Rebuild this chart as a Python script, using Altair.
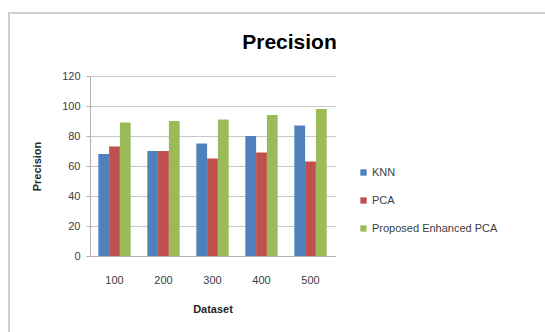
import altair as alt
import pandas as pd

datasets = ["100", "200", "300", "400", "500"]
series = ["KNN", "PCA", "Proposed Enhanced PCA"]
knn = [68, 70, 75, 80, 87]
pca = [73, 70, 65, 69, 63]
enhanced = [89, 90, 91, 94, 98]
colors = ["#4F81BD", "#C0504D", "#9BBB59"]

rows = []
for s, vals in zip(series, [knn, pca, enhanced]):
    for d, v in zip(datasets, vals):
        rows.append({"Dataset": d, "Series": s, "Precision": v})
df = pd.DataFrame(rows)

font = "Liberation Sans"

bars = alt.Chart(df).mark_bar().encode(
    x=alt.X("Dataset:N", sort=datasets, title="Dataset",
            scale=alt.Scale(paddingInner=0.34, paddingOuter=0.17),
            axis=alt.Axis(labelAngle=0, labelColor="#404040", labelFontSize=11,
                          titleFontSize=11, titleFontWeight="bold", titleColor="#262626",
                          domainColor="#b0b0b0", tickColor="#b0b0b0", ticks=False,
                          labelPadding=18, titlePadding=18, grid=False)),
    xOffset=alt.XOffset("Series:N", sort=series),
    y=alt.Y("Precision:Q", title="Precision",
            scale=alt.Scale(domain=[0, 120]),
            axis=alt.Axis(values=[0, 20, 40, 60, 80, 100, 120], labelColor="#404040",
                          labelFontSize=11, titleFontSize=11, titleFontWeight="bold",
                          titleColor="#262626", gridColor="#c8c8c8", domainColor="#b0b0b0",
                          tickColor="#b0b0b0", tickSize=4, labelPadding=6, titlePadding=19)),
    color=alt.Color("Series:N", sort=series,
                    scale=alt.Scale(domain=series, range=colors),
                    legend=alt.Legend(title=None, orient="none", legendX=268, legendY=91,
                                      symbolType="square", symbolSize=40,
                                      labelFontSize=11, labelColor="#404040",
                                      rowPadding=16, labelOffset=3)),
)

border = alt.Chart(df).mark_rect(fill=None, stroke="#cfcfcf", strokeWidth=2).encode(
    x=alt.value(-81), x2=alt.value(470), y=alt.value(-63), y2=alt.value(270)
)

chart = alt.layer(border, bars).properties(
    width=245, height=180,
    title=alt.TitleParams("Precision", fontSize=21, fontWeight="bold", font=font,
                          color="#000000", anchor="middle", dx=77, offset=-41),
    autosize=alt.AutoSizeParams(type="none"),
    padding={"left": 90, "top": 76, "right": 210, "bottom": 76},
).configure(font=font).configure_view(stroke=None).configure_axis(
    labelFont=font, titleFont=font
).configure_legend(labelFont=font)

chart.save("out.html", embed_options={"renderer": "svg", "actions": False})
